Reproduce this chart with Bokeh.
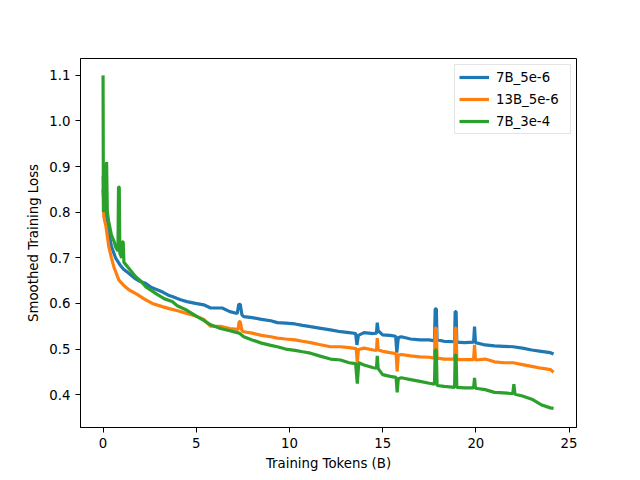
from bokeh.plotting import figure
from bokeh.models import Range1d, FixedTicker, Legend, LegendItem, PrintfTickFormatter
from bokeh.embed import file_html
from bokeh.resources import INLINE

# ---- data ----
series_names = ["7B_5e-6", "13B_5e-6", "7B_3e-4"]
series_colors = ["#1f77b4", "#ff7f0e", "#2ca02c"]

blue_x = [0.0, 0.05, 0.13, 0.2, 0.31, 0.45, 0.67, 0.9, 1.1, 1.38, 1.7, 2.0, 2.28, 2.6, 2.9, 3.2, 3.5, 3.71,
          4.16, 4.5, 4.96, 5.4, 5.77, 6.39, 6.8, 7.2, 7.28, 7.36, 7.45, 7.55, 8.0, 8.5, 9.0, 9.35, 9.8,
          10.3, 10.7, 11.13, 11.6, 12.2, 12.74, 13.2, 13.55, 13.62, 13.7, 14.0, 14.5, 14.67, 14.71, 14.76,
          15.0, 15.4, 15.7, 15.76, 15.84, 16.0, 16.5, 17.0, 17.5, 17.78, 17.82, 17.88, 17.92, 18.3, 18.86,
          18.89, 18.94, 18.98, 19.4, 19.88, 19.93, 19.98, 20.5, 21.0, 21.5, 22.0, 22.5, 23.0, 23.5, 24.0, 24.17]
blue_y = [0.85, 0.82, 0.81, 0.79, 0.755, 0.725, 0.70, 0.685, 0.675, 0.666, 0.655, 0.648, 0.644, 0.635, 0.63,
          0.625, 0.618, 0.615, 0.608, 0.604, 0.60, 0.597, 0.59, 0.59, 0.582, 0.578, 0.598, 0.598, 0.575, 0.571,
          0.569, 0.565, 0.562, 0.558, 0.557, 0.555, 0.552, 0.549, 0.546, 0.542, 0.538, 0.536, 0.534, 0.509,
          0.53, 0.536, 0.534, 0.535, 0.558, 0.54, 0.531, 0.53, 0.528, 0.492, 0.525, 0.527, 0.522, 0.52, 0.52,
          0.518, 0.588, 0.588, 0.52, 0.517, 0.516, 0.582, 0.582, 0.515, 0.514, 0.515, 0.549, 0.514, 0.509,
          0.507, 0.506, 0.505, 0.502, 0.498, 0.495, 0.492, 0.489]

orange_x = [0.0, 0.04, 0.15, 0.31, 0.45, 0.58, 0.85, 1.1, 1.38, 1.83, 2.2, 2.64, 3.18, 3.6, 4.0, 4.5, 5.0,
            5.4, 5.77, 6.3, 6.8, 7.25, 7.3, 7.36, 7.45, 7.55, 8.0, 8.5, 9.0, 9.35, 9.8, 10.3, 10.7, 11.13,
            11.6, 12.2, 12.74, 13.2, 13.58, 13.64, 13.7, 14.0, 14.5, 14.67, 14.71, 14.76, 15.0, 15.4, 15.72,
            15.78, 15.84, 16.0, 16.5, 17.0, 17.5, 17.78, 17.82, 17.88, 17.92, 18.3, 18.86, 18.89, 18.94,
            18.98, 19.4, 19.88, 19.93, 19.98, 20.5, 21.0, 21.5, 22.0, 22.5, 23.0, 23.5, 24.0, 24.17]
orange_y = [0.88, 0.79, 0.77, 0.724, 0.70, 0.68, 0.651, 0.64, 0.63, 0.62, 0.61, 0.60, 0.593, 0.588, 0.584,
            0.578, 0.572, 0.565, 0.55, 0.55, 0.545, 0.543, 0.56, 0.56, 0.54, 0.538, 0.535, 0.53, 0.527, 0.524,
            0.522, 0.52, 0.517, 0.514, 0.51, 0.505, 0.505, 0.503, 0.501, 0.47, 0.499, 0.502, 0.498, 0.497,
            0.524, 0.498, 0.495, 0.492, 0.49, 0.451, 0.487, 0.488, 0.485, 0.483, 0.482, 0.48, 0.546, 0.546,
            0.48, 0.478, 0.478, 0.546, 0.546, 0.477, 0.477, 0.477, 0.509, 0.476, 0.478, 0.472, 0.47, 0.47,
            0.466, 0.462, 0.458, 0.455, 0.449]

green_x = [0.0, 0.02, 0.06, 0.1, 0.15, 0.19, 0.23, 0.3, 0.45, 0.6, 0.67, 0.8, 0.83, 0.87, 0.9, 1.0, 1.03,
           1.08, 1.12, 1.38, 1.74, 2.0, 2.28, 2.6, 2.9, 3.3, 3.71, 3.98, 4.5, 5.0, 5.4, 5.77, 6.3, 6.8, 7.3,
           7.55, 8.0, 8.5, 9.0, 9.35, 9.8, 10.3, 10.7, 11.13, 11.6, 12.2, 12.74, 13.2, 13.55, 13.64, 13.72,
           14.0, 14.5, 14.67, 14.71, 14.76, 15.0, 15.4, 15.72, 15.78, 15.84, 16.0, 16.5, 17.0, 17.5, 17.78,
           17.82, 17.88, 17.92, 18.3, 18.86, 18.89, 18.94, 18.98, 19.4, 19.88, 19.93, 19.98, 20.5, 21.0,
           21.5, 21.98, 22.04, 22.1, 22.5, 23.0, 23.5, 24.0, 24.17]
green_y = [1.10, 0.80, 0.88, 0.82, 0.84, 0.91, 0.80, 0.78, 0.75, 0.735, 0.724, 0.715, 0.855, 0.855, 0.71,
           0.70, 0.735, 0.735, 0.69, 0.677, 0.659, 0.65, 0.637, 0.628, 0.62, 0.61, 0.604, 0.595, 0.585,
           0.572, 0.563, 0.553, 0.545, 0.54, 0.535, 0.527, 0.52, 0.513, 0.508, 0.505, 0.50, 0.497, 0.494,
           0.491, 0.485, 0.478, 0.476, 0.47, 0.468, 0.424, 0.47, 0.465, 0.459, 0.458, 0.485, 0.457, 0.444,
           0.44, 0.438, 0.405, 0.435, 0.437, 0.433, 0.429, 0.425, 0.423, 0.498, 0.498, 0.42, 0.418, 0.416,
           0.487, 0.487, 0.416, 0.415, 0.415, 0.437, 0.414, 0.411, 0.405, 0.404, 0.402, 0.423, 0.401, 0.397,
           0.39, 0.378, 0.371, 0.37]

x_ticks = [0, 5, 10, 15, 20, 25]
y_ticks = [0.4, 0.5, 0.6, 0.7, 0.8, 0.9, 1.0, 1.1]

FONT = "DejaVu Sans"

p = figure(width=640, height=480, output_backend="svg", toolbar_location=None,
           x_range=Range1d(-1.21, 25.4), y_range=Range1d(0.328, 1.137),
           min_border_left=80, min_border_top=58, min_border_right=64, min_border_bottom=53)

renderers = []
for xs, ys, c in zip([blue_x, orange_x, green_x], [blue_y, orange_y, green_y], series_colors):
    r = p.line(xs, ys, line_color=c, line_width=3.2)
    renderers.append(r)

p.grid.visible = False
p.outline_line_color = "black"
p.outline_line_width = 1
p.background_fill_color = "white"
p.border_fill_color = "white"

p.xaxis.ticker = FixedTicker(ticks=x_ticks)
p.yaxis.ticker = FixedTicker(ticks=y_ticks)
p.yaxis.formatter = PrintfTickFormatter(format="%.1f")
p.xaxis.axis_label = "Training Tokens (B)"
p.yaxis.axis_label = "Smoothed Training Loss"
for ax in (p.xaxis, p.yaxis):
    ax.axis_label_text_font = FONT
    ax.axis_label_text_font_size = "13.3px"
    ax.axis_label_text_font_style = "normal"
    ax.axis_label_text_color = "black"
    ax.major_label_text_font = FONT
    ax.major_label_text_font_size = "13.3px"
    ax.major_label_text_color = "black"
    ax.minor_tick_line_color = None
    ax.major_tick_in = 0
    ax.major_tick_out = 5
    ax.major_tick_line_color = "black"
    ax.axis_line_color = "black"
    ax.major_label_standoff = 5
    ax.axis_label_standoff = 5

legend = Legend(items=[LegendItem(label=n, renderers=[r]) for n, r in zip(series_names, renderers)],
                location=(374, 293))
legend.margin = 0
legend.padding = 4
legend.spacing = 6
legend.label_height = 16
legend.glyph_height = 16
legend.glyph_width = 30
legend.label_standoff = 7
legend.label_text_font = FONT
legend.label_text_font_size = "13.3px"
legend.label_text_color = "black"
legend.border_line_color = "#cccccc"
legend.border_line_width = 1
legend.background_fill_alpha = 0.8
legend.label_width = 70
p.add_layout(legend)

open("out.html", "w").write(file_html(p, INLINE))
